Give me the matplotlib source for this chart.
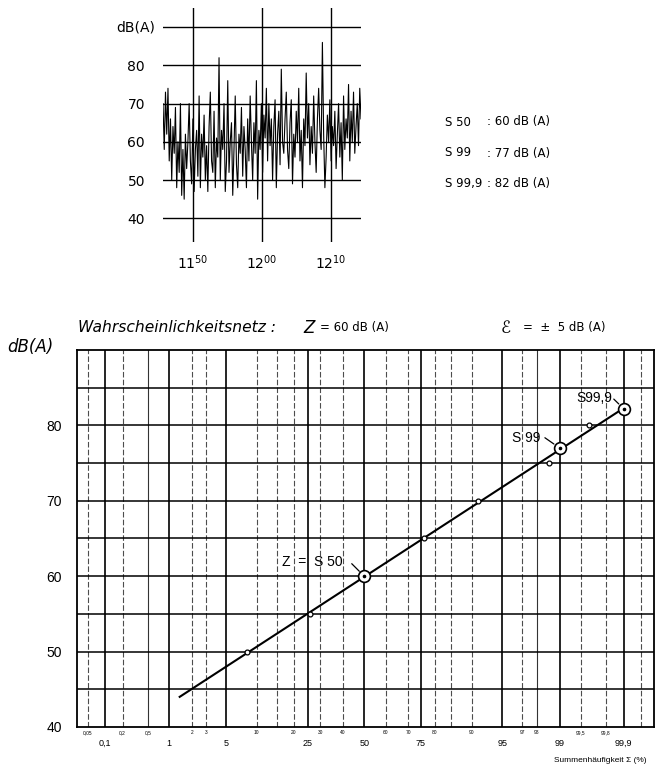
import matplotlib
matplotlib.use("Agg")
import matplotlib.pyplot as plt
import matplotlib.transforms as mtransforms
import numpy as np
from statistics import NormalDist

# ---- upper chart: level recording (minutes after 11:50) ----
TIME_START = -4.3
TIME_END = 24.4
level_db = [
    70, 58, 73, 62, 74, 55, 66, 50, 64, 57, 69, 48, 60, 52, 70, 46, 58, 45, 62, 53,
    60, 70, 55, 49, 66, 47, 58, 63, 51, 72, 48, 62, 56, 67, 50, 59, 47, 64, 73, 55,
    52, 68, 48, 61, 56, 82, 50, 63, 58, 70, 47, 55, 76, 52, 60, 65, 46, 58, 72, 54,
    48, 62, 57, 69, 51, 64, 58, 48, 66, 55, 72, 60, 50, 65, 57, 76, 45, 63, 58, 70,
    52, 67, 61, 74, 55, 70, 59, 66, 50, 64, 71, 48, 62, 68, 54, 79, 60, 57, 66, 73,
    58, 53, 65, 71, 49, 62, 56, 68, 60, 74, 55, 63, 48, 66, 59, 78, 61, 70, 54, 64,
    57, 72, 60, 52, 66, 74, 63, 58, 86, 62, 48, 56, 67, 60, 71, 55, 64, 59, 68, 53,
    62, 70, 56, 65, 50, 72, 58, 66, 61, 75, 55, 68, 60, 73, 57, 64, 70, 59, 74, 66,
]
time_ticks = [0, 10, 20]
time_labels = [r"$11^{50}$", r"$12^{00}$", r"$12^{10}$"]
level_ticks = [40, 50, 60, 70, 80]
level_lines = [40, 50, 60, 70, 80, 90]

stat_names = ["S 50", "S 99", "S 99,9"]
stat_values = [": 60 dB (A)", ": 77 dB (A)", ": 82 dB (A)"]

# ---- lower chart: probability net ----
meas_pct = [8.2, 26, 76.3, 91.3, 98.6, 99.63]
meas_db = [50, 55, 65, 70, 75, 80]
fit_pct = [1.4, 99.9]
fit_db = [44.0, 82.3]
perc_pct = [50, 99, 99.9]
perc_db = [60, 77, 82.2]
perc_labels = ["Z  =  S 50", "S 99", "S99,9"]

major_pct = [0.1, 1, 5, 25, 50, 75, 95, 99, 99.9]
major_txt = ["0,1", "1", "5", "25", "50", "75", "95", "99", "99,9"]
thin_pct = [0.5, 98]
dashed_pct = [0.05, 0.2, 2, 3, 10, 15, 20, 30, 40, 60, 70, 80, 85, 90, 97,
              99.5, 99.8, 99.95]
small_pct = [0.05, 0.2, 0.5, 2, 3, 10, 20, 30, 40, 60, 70, 80, 90, 97, 98,
             99.5, 99.8]
small_txt = ["0,05", "0,2", "0,5", "2", "3", "10", "20", "30", "40", "60",
             "70", "80", "90", "97", "98", "99,5", "99,8"]
db_lines = [45, 50, 55, 60, 65, 70, 75, 80, 85]
db_ticks = [40, 50, 60, 70, 80]

nd = NormalDist()
_ppf = np.vectorize(nd.inv_cdf, otypes=[float])
_cdf = np.vectorize(nd.cdf, otypes=[float])


def prob_fwd(p):
    p = np.clip(np.asarray(p, dtype=float), 1e-6, 100 - 1e-6)
    return _ppf(p / 100.0)


def prob_inv(z):
    return _cdf(np.asarray(z, dtype=float)) * 100.0


W, H = 666, 768
fig = plt.figure(figsize=(W / 100, H / 100), dpi=100)

# ================= upper chart =================
ax1 = fig.add_axes([163 / W, 1 - 242 / H, 198 / W, 234 / H])
t = np.linspace(TIME_START, TIME_END, len(level_db))
ax1.plot(t, level_db, color="black", lw=0.8)
for y in level_lines:
    ax1.axhline(y, color="black", lw=1.0)
for x in time_ticks:
    ax1.axvline(x, color="black", lw=1.0)
ax1.set_xlim(TIME_START, TIME_END)
ax1.set_ylim(33.8, 95.0)
for s in ax1.spines.values():
    s.set_visible(False)
ax1.set_yticks(level_ticks)
ax1.set_yticklabels([str(v) for v in level_ticks], fontsize=10, family="DejaVu Sans")
ax1.set_xticks(time_ticks)
ax1.set_xticklabels(time_labels, fontsize=10)
ax1.tick_params(length=0)
ax1.tick_params(axis="y", pad=13)
ax1.tick_params(axis="x", pad=8)
tr1 = mtransforms.blended_transform_factory(ax1.transAxes, ax1.transData)
ax1.text(-8 / 198, 90, "dB(A)", transform=tr1, ha="right", va="center",
         fontsize=10, family="DejaVu Sans")

for i, (name, val) in enumerate(zip(stat_names, stat_values)):
    yy = 1 - (122 + 31 * i) / H
    fig.text(445 / W, yy, name, fontsize=8.5, va="center", family="DejaVu Sans")
    fig.text(487 / W, yy, val, fontsize=8.5, va="center", family="DejaVu Sans")

# ================= lower chart =================
ax = fig.add_axes([77 / W, 1 - 727 / H, 577 / W, 377 / H])
ax.set_xscale("function", functions=(prob_fwd, prob_inv))
ax.set_xlim(prob_inv(-3.42), prob_inv(3.45))
ax.set_ylim(40, 90)

for p in major_pct:
    ax.axvline(p, color="black", lw=1.2)
for p in thin_pct:
    ax.axvline(p, color="0.2", lw=0.8)
for p in dashed_pct:
    ax.axvline(p, color="0.3", lw=0.8, ls=(0, (5, 2)))
for y in db_lines:
    ax.axhline(y, color="black", lw=1.1)
for s in ax.spines.values():
    s.set_linewidth(1.3)

ax.plot(fit_pct, fit_db, color="black", lw=1.5)
ax.plot(meas_pct, meas_db, ls="none", marker="o", ms=3.5, mfc="white",
        mec="black", mew=0.9)
ax.plot(perc_pct, perc_db, ls="none", marker="o", ms=8.5, mfc="white",
        mec="black", mew=1.2)
ax.plot(perc_pct, perc_db, ls="none", marker="o", ms=1.6, color="black")

lead_start = [(-9, 9), (-10.6, 7.4), (-7.2, 7.0)]
text_off = [(-15.3, 10.3), (-14.2, 7.4), (-8.4, 7.7)]
for p, d, lab, ls_, to in zip(perc_pct, perc_db, perc_labels, lead_start, text_off):
    ax.annotate("", xy=(p, d), xytext=ls_, textcoords="offset points",
                arrowprops=dict(arrowstyle="-", shrinkA=0, shrinkB=5, lw=0.9,
                                color="black"))
    ax.annotate(lab, xy=(p, d), xytext=to, textcoords="offset points",
                ha="right", va="center", fontsize=10, family="Liberation Sans")

ax.set_yticks(db_ticks)
ax.set_yticklabels([str(v) for v in db_ticks], fontsize=10, family="Liberation Sans")
ax.set_xticks([])
ax.tick_params(axis="y", length=0, pad=11)

trx = mtransforms.blended_transform_factory(ax.transData, ax.transAxes)
for p, s in zip(small_pct, small_txt):
    ax.text(p, -6 / 377, s, transform=trx, ha="center", va="center",
            fontsize=3.5, family="Liberation Sans")
for p, s in zip(major_pct, major_txt):
    ax.text(p, -16 / 377, s, transform=trx, ha="center", va="center",
            fontsize=6.5, family="Liberation Sans")

fig.text(554 / W, 1 - 760 / H, "Summenhäufigkeit Σ (%)", fontsize=6,
         va="center", family="Liberation Sans")

# titles
fig.text(78 / W, 1 - 328 / H, "Wahrscheinlichkeitsnetz :", fontsize=11.2,
         style="italic", va="center", family="DejaVu Sans")
fig.text(303 / W, 1 - 328 / H, "Z", fontsize=12, style="italic", va="center",
         family="DejaVu Sans")
fig.text(320 / W, 1 - 328 / H, "= 60 dB (A)", fontsize=8.5, va="center",
         family="DejaVu Sans")
fig.text(501 / W, 1 - 328 / H, "ℰ", fontsize=12, va="center", family="DejaVu Sans")
fig.text(523 / W, 1 - 328 / H, "=  ±  5 dB (A)", fontsize=8.5, va="center",
         family="DejaVu Sans")
fig.text(7 / W, 1 - 347 / H, "dB(A)", fontsize=12, style="italic", va="center",
         family="DejaVu Sans")

fig.savefig("out.png", dpi=100)
